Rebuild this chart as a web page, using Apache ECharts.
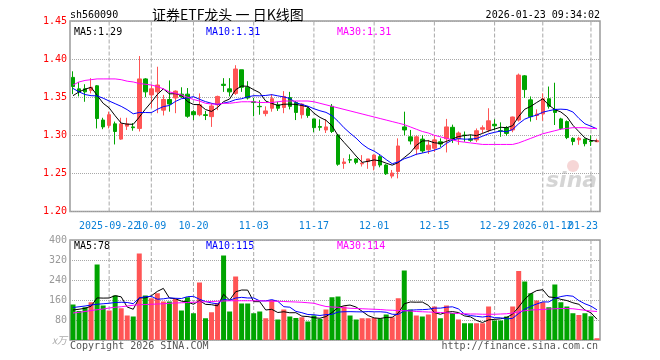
<!DOCTYPE html>
<html><head><meta charset="utf-8">
<script src="https://cdn.jsdelivr.net/npm/echarts@6/dist/echarts.min.js"></script>
<style>html,body{margin:0;padding:0;background:#fff}#c{width:660px;height:360px}</style>
</head><body><div id="c"></div>
<script>
const dates = ['2025-09-12','2025-09-15','2025-09-16','2025-09-17','2025-09-18','2025-09-19','2025-09-22','2025-09-23','2025-09-24','2025-09-25','2025-09-26','2025-09-29','2025-09-30','2025-10-09','2025-10-10','2025-10-13','2025-10-14','2025-10-15','2025-10-16','2025-10-17','2025-10-20','2025-10-21','2025-10-22','2025-10-23','2025-10-24','2025-10-27','2025-10-28','2025-10-29','2025-10-30','2025-10-31','2025-11-03','2025-11-04','2025-11-05','2025-11-06','2025-11-07','2025-11-10','2025-11-11','2025-11-12','2025-11-13','2025-11-14','2025-11-17','2025-11-18','2025-11-19','2025-11-20','2025-11-21','2025-11-24','2025-11-25','2025-11-26','2025-11-27','2025-11-28','2025-12-01','2025-12-02','2025-12-03','2025-12-04','2025-12-05','2025-12-08','2025-12-09','2025-12-10','2025-12-11','2025-12-12','2025-12-15','2025-12-16','2025-12-17','2025-12-18','2025-12-19','2025-12-22','2025-12-23','2025-12-24','2025-12-25','2025-12-26','2025-12-29','2025-12-30','2025-12-31','2026-01-05','2026-01-06','2026-01-07','2026-01-08','2026-01-09','2026-01-12','2026-01-13','2026-01-14','2026-01-15','2026-01-16','2026-01-19','2026-01-20','2026-01-21','2026-01-22','2026-01-23'];
const opens = [1.376,1.361,1.361,1.359,1.365,1.320,1.313,1.315,1.295,1.312,1.311,1.309,1.374,1.353,1.357,1.333,1.347,1.349,1.354,1.354,1.331,1.327,1.327,1.3245,1.340,1.367,1.361,1.355,1.386,1.363,1.344,1.338,1.3285,1.3355,1.340,1.3365,1.3495,1.343,1.327,1.335,1.3215,1.3115,1.307,1.338,1.3005,1.263,1.268,1.269,1.2625,1.2655,1.260,1.272,1.261,1.2465,1.2525,1.311,1.298,1.282,1.295,1.281,1.283,1.2915,1.2955,1.3105,1.2955,1.3002,1.2952,1.294,1.308,1.307,1.3145,1.306,1.310,1.307,1.320,1.378,1.3465,1.326,1.328,1.348,1.334,1.3215,1.318,1.296,1.294,1.295,1.2925,1.2915];
const closes = [1.364,1.357,1.357,1.363,1.322,1.311,1.327,1.305,1.315,1.315,1.310,1.374,1.357,1.361,1.366,1.347,1.341,1.358,1.351,1.325,1.327,1.340,1.326,1.3385,1.351,1.3655,1.357,1.387,1.363,1.349,1.343,1.3375,1.332,1.348,1.3355,1.351,1.338,1.330,1.341,1.326,1.310,1.3105,1.311,1.305,1.262,1.265,1.2675,1.2645,1.2635,1.269,1.274,1.261,1.2495,1.2505,1.286,1.307,1.2925,1.298,1.2795,1.287,1.294,1.2885,1.311,1.2955,1.303,1.2998,1.2935,1.306,1.310,1.319,1.3125,1.3055,1.3025,1.324,1.379,1.360,1.3245,1.328,1.348,1.338,1.330,1.309,1.297,1.292,1.296,1.289,1.292,1.293];
const highs = [1.384,1.370,1.367,1.375,1.366,1.323,1.331,1.318,1.323,1.323,1.316,1.404,1.375,1.366,1.390,1.353,1.372,1.359,1.363,1.362,1.333,1.355,1.332,1.342,1.352,1.375,1.375,1.392,1.386,1.371,1.349,1.346,1.338,1.354,1.344,1.358,1.357,1.345,1.342,1.338,1.3215,1.321,1.321,1.341,1.301,1.270,1.275,1.270,1.274,1.269,1.275,1.274,1.262,1.2545,1.296,1.331,1.307,1.300,1.300,1.294,1.300,1.296,1.3215,1.314,1.305,1.305,1.301,1.309,1.313,1.3355,1.321,1.317,1.312,1.3245,1.381,1.379,1.351,1.334,1.355,1.364,1.369,1.323,1.3195,1.2975,1.298,1.2955,1.300,1.2955];
const lows = [1.354,1.351,1.344,1.355,1.309,1.308,1.309,1.288,1.294,1.307,1.306,1.305,1.350,1.336,1.329,1.326,1.331,1.329,1.349,1.323,1.320,1.325,1.320,1.311,1.333,1.357,1.351,1.353,1.357,1.347,1.325,1.327,1.325,1.331,1.332,1.329,1.334,1.320,1.322,1.323,1.304,1.306,1.303,1.303,1.260,1.256,1.2635,1.262,1.259,1.256,1.254,1.258,1.248,1.2435,1.2435,1.300,1.288,1.274,1.277,1.2755,1.278,1.2845,1.2775,1.290,1.2875,1.2915,1.2915,1.291,1.303,1.304,1.307,1.298,1.2995,1.304,1.318,1.349,1.318,1.320,1.319,1.335,1.3135,1.307,1.295,1.287,1.2875,1.2855,1.286,1.2915];
const volumes = [142,116,131,151,302,138,118,178,127,98,94,346,178,167,187,154,154,164,118,171,107,230,87,111,148,338,114,254,146,146,107,114,87,160,82,122,94,88,91,74,98,84,122,171,174,134,98,82,87,87,88,87,102,91,167,278,122,98,94,102,134,87,138,108,82,67,67,67,67,134,78,78,94,134,276,234,187,158,151,131,222,151,134,107,100,107,95,7];
const ma5Head = [1.352,1.357,1.3605,1.363];
const ma10Head = [1.3615,1.357,1.3535,1.352,1.3517,1.3487,1.345,1.3415,1.338];
const ma30 = [1.366,1.370,1.372,1.373,1.374,1.374,1.374,1.374,1.373,1.371,1.370,1.368,1.367,1.366,1.364,1.361,1.357,1.355,1.353,1.350,1.347,1.345,1.342,1.341,1.341,1.342,1.342,1.343,1.344,1.344,1.344,1.343,1.343,1.343,1.344,1.345,1.345,1.345,1.345,1.345,1.344,1.342,1.340,1.338,1.336,1.334,1.332,1.330,1.328,1.326,1.324,1.322,1.320,1.318,1.316,1.314,1.311,1.308,1.305,1.303,1.300,1.298,1.296,1.294,1.292,1.291,1.290,1.289,1.288,1.288,1.288,1.288,1.288,1.288,1.290,1.293,1.296,1.299,1.302,1.304,1.306,1.308,1.309,1.310,1.310,1.310,1.309,1.309];
const volMa5Head = [120,123,127,135];
const volMa10Head = [130,133,136,140,143,145,147,150,151];
const volMa30 = [108,111,114,118,121,124,128,131,133,136,139,141,142,143,144,145,147,148,149,150,151,152,153,154,155,156,157,157,157,157,157,157,156,155,155,154,153,152,151,149,147,140,134,132,131,129,127,126,125,124,123,122,120,119,118,117,116,114,113,112,111,110,109,107,106,105,104,104,103,103,103,104,105,108,113,117,120,121,122,124,125,126,126,125,122,119,116,114];
const tickIdx = [6,13,20,30,40,50,60,70,78,87];
const tickLabels = ['2025-09-22','10-09','10-20','11-03','11-17','12-01','12-15','12-29','2026-01-12','01-23'];
const gridIdx = [6,13,20,30,40,50,60,70,78,86];
const priceRange = [1.2, 1.45];
const volRange = [0, 400];
const priceLegend = ['MA5:1.29','MA10:1.31','MA30:1.31'];
const volLegend = ['MA5:78','MA10:115','MA30:114'];

const MONO = '"DejaVu Sans Mono", "Liberation Mono", monospace';
const UP = '#ff5555', DOWN = '#00a400', AXBLUE = '#0a80d8', GRIDC = '#a8a8a8';
function movingAvg(arr, n, head) {
  return arr.map((_, i) => {
    if (i < head.length) return head[i];
    let s = 0; for (let k = i - n + 1; k <= i; k++) s += arr[k];
    return +(s / n).toFixed(4);
  });
}
const ma5 = movingAvg(closes, 5, ma5Head);
const ma10 = movingAvg(closes, 10, ma10Head);
const vma5 = movingAvg(volumes, 5, volMa5Head);
const vma10 = movingAvg(volumes, 10, volMa10Head);

const chart = echarts.init(document.getElementById('c'), null, {renderer: 'canvas'});
const lineS = (name, data, color, xi, yi) => ({name, type: 'line', data, xAxisIndex: xi, yAxisIndex: yi,
  showSymbol: false, symbol: 'none', lineStyle: {color, width: 1}, itemStyle: {color}, z: 5, silent: true});
// dashed vertical guides: each is a two-point line series spanning the panel's value range at a labelled date
const guideLines = (xi, yi, range) => gridIdx.map(i => ({type: 'line', xAxisIndex: xi, yAxisIndex: yi,
  data: [[dates[i], range[0]], [dates[i], range[1]]], showSymbol: false, symbol: 'none', silent: true, z: 1,
  lineStyle: {color: GRIDC, width: 1, type: 'dashed'}}));
const groupA = [0, 2, 4, 6, 8], groupB = [1, 3, 5, 7, 9];
const xAx = (gi, group) => {
  const idxs = group ? group.map(k => tickIdx[k]) : [];
  return {type: 'category', data: dates, gridIndex: gi, boundaryGap: true, position: 'bottom',
    axisLine: {show: false}, axisTick: {show: false}, splitLine: {show: false},
    axisLabel: {show: !!group, interval: (i) => idxs.includes(i), hideOverlap: false,
      formatter: (v, i) => { const k = tickIdx.indexOf(i); return k === tickIdx.length - 1 ? '{e|' + tickLabels[k] + '}' : tickLabels[k]; },
      rich: {e: {color: AXBLUE, fontFamily: MONO, fontSize: 10, padding: [0, 28, 0, 0]}},
      color: AXBLUE, fontFamily: MONO, fontSize: 10, margin: 10}};
};
const txt = (t, left, top, fill) => ({type: 'text', left, top, style: {text: t, fill, font: '10px ' + MONO}});

chart.setOption({
  animation: false,
  backgroundColor: '#fff',
  grid: [
    {left: 70, top: 21, width: 530, height: 190.5, show: true, borderColor: '#9a9a9a', borderWidth: 1.5},
    {left: 70, top: 240, width: 530, height: 100, show: true, borderColor: '#9a9a9a', borderWidth: 1.5}
  ],
  xAxis: [xAx(0, groupA), xAx(1, null), xAx(0, groupB)],
  yAxis: [
    {type: 'value', gridIndex: 0, min: priceRange[0], max: priceRange[1], interval: 0.05,
      axisLine: {show: false}, axisTick: {show: false},
      axisLabel: {color: '#ff0000', fontFamily: MONO, fontSize: 10, margin: 3, formatter: v => v.toFixed(2)},
      splitLine: {show: true, lineStyle: {color: GRIDC, type: 'dotted', width: 1}}},
    {type: 'value', gridIndex: 1, min: volRange[0], max: volRange[1], interval: 80,
      axisLine: {show: false}, axisTick: {show: false},
      axisLabel: {color: '#999', fontFamily: MONO, fontSize: 10, margin: 3,
        formatter: v => v === 0 ? '{u|x万}' : String(v),
        rich: {u: {color: '#aaa', fontStyle: 'italic', fontSize: 10, fontFamily: 'Noto Sans CJK SC'}}},
      splitLine: {show: true, lineStyle: {color: GRIDC, type: 'dotted', width: 1}}}
  ],
  series: [].concat(
    guideLines(0, 0, priceRange),
    guideLines(1, 1, volRange),
    [
      {name: 'K', type: 'candlestick', xAxisIndex: 0, yAxisIndex: 0, barWidth: 4,
        data: dates.map((d, i) => [opens[i], closes[i], lows[i], highs[i]]),
        itemStyle: {color: UP, color0: DOWN, borderColor: UP, borderColor0: DOWN, borderWidth: 1},
        z: 3, silent: true},
      lineS('MA5', ma5, '#000000', 0, 0),
      lineS('MA10', ma10, '#0000ff', 0, 0),
      lineS('MA30', ma30, '#ff00ff', 0, 0),
      {name: 'VOL', type: 'bar', xAxisIndex: 1, yAxisIndex: 1, barWidth: 5, silent: true,
        data: volumes.map((v, i) => ({value: v, itemStyle: {color: closes[i] >= opens[i] ? UP : DOWN}})),
        z: 3},
      lineS('VMA5', vma5, '#000000', 1, 1),
      lineS('VMA10', vma10, '#0000ff', 1, 1),
      lineS('VMA30', volMa30, '#ff00ff', 1, 1)
    ]),
  graphic: [
    txt('sh560090', 70, 10, '#000'),
    {type: 'text', left: 152, top: 8, style: {text: '证券ETF龙头 一 日K线图', fill: '#000', font: '14px "Noto Sans CJK SC"'}},
    {type: 'text', right: 60, top: 10, style: {text: '2026-01-23 09:34:02', fill: '#000', font: '10px ' + MONO}},
    txt(priceLegend[0], 74, 27, '#000'),
    txt(priceLegend[1], 206, 27, '#0000ff'),
    txt(priceLegend[2], 337, 27, '#ff00ff'),
    txt(volLegend[0], 74, 241, '#000'),
    txt(volLegend[1], 206, 241, '#0000ff'),
    txt(volLegend[2], 337, 241, '#ff00ff'),
    txt('Copyright 2026 SINA.COM', 70, 341, '#555'),
    {type: 'text', right: 62, top: 341, style: {text: 'http://finance.sina.com.cn', fill: '#555', font: '10px ' + MONO}},
    {type: 'circle', shape: {cx: 573, cy: 166, r: 6}, style: {fill: 'rgba(225,120,120,0.3)'}, silent: true},
    {type: 'text', left: 546, top: 170, style: {text: 'sina', fill: 'rgba(150,150,150,0.4)', font: 'italic bold 22px "DejaVu Sans"'}, silent: true}
  ]
});
</script></body></html>
